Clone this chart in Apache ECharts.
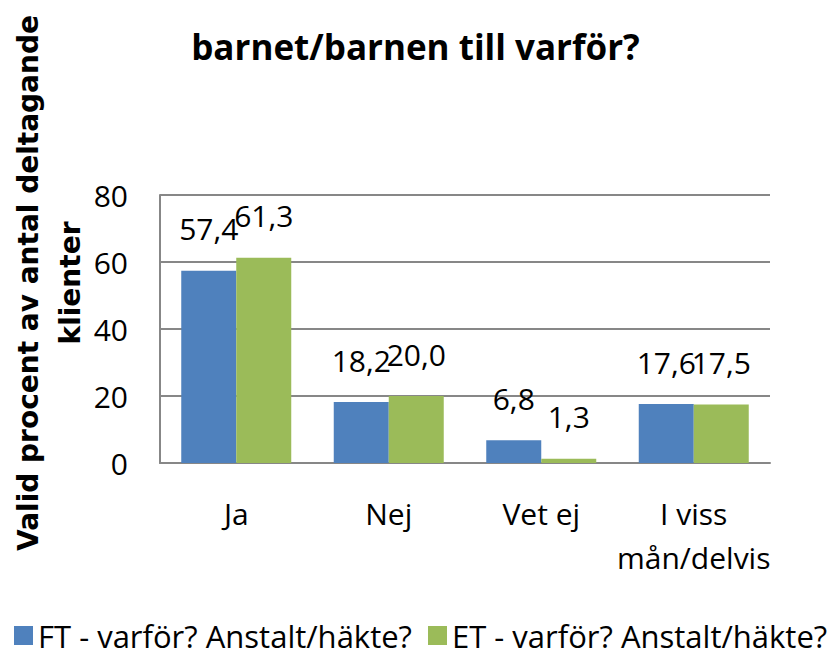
<!DOCTYPE html>
<html lang="sv">
<head>
    <meta charset="UTF-8">
    <title>barnet/barnen till varför?</title>
    <script type="text/javascript" src="https://cdn.jsdelivr.net/npm/echarts@6/dist/echarts.min.js"></script>
    <style>
        html, body {margin: 0; padding: 0; background: #fff;}
        #chart {width: 831px; height: 655px;}
    </style>
</head>
<body>
<div id="chart"></div>
<script>
    // data
    var categories = ['Ja', 'Nej', 'Vet ej', 'I viss\nmån/delvis'];
    var seriesNames = ['FT - varför? Anstalt/häkte?', 'ET - varför? Anstalt/häkte?'];
    var ftValues = [57.4, 18.2, 6.8, 17.6];
    var etValues = [61.3, 20.0, 1.3, 17.5];
    var yTicks = [0, 20, 40, 60, 80];

    var font = "'Open Sans', sans-serif";
    var gray = '#878787';

    // 57.4 -> "57,4"
    function fmt(v) {
        return v.toFixed(1).replace('.', ',');
    }

    var chart = echarts.init(document.getElementById('chart'), null, {renderer: 'svg'});
    chart.setOption({
        animation: false,
        color: ['#4F81BD', '#9BBB59'],
        title: {
            text: 'barnet/barnen till varför?',
            left: 'center',
            top: 24,
            textStyle: {fontFamily: font, fontSize: 35, fontWeight: 'bold', color: '#000'}
        },
        legend: {
            data: seriesNames,
            left: 14,
            top: 620,
            padding: 0,
            width: 817,
            itemWidth: 19,
            itemHeight: 19,
            itemGap: 16,
            icon: 'rect',
            textStyle: {fontFamily: font, fontSize: 31, color: '#000'}
        },
        grid: {left: 160, right: 61, top: 195, bottom: 192},
        xAxis: {
            type: 'category',
            data: categories,
            axisLine: {lineStyle: {color: gray, width: 2}},
            axisTick: {show: false},
            axisLabel: {fontFamily: font, fontSize: 30, color: '#000', margin: 28, lineHeight: 44, interval: 0}
        },
        yAxis: {
            type: 'value',
            min: yTicks[0],
            max: yTicks[yTicks.length - 1],
            interval: 20,
            axisLine: {show: true, lineStyle: {color: gray, width: 2}},
            axisTick: {show: false},
            splitLine: {lineStyle: {color: gray, width: 2}},
            axisLabel: {fontFamily: font, fontSize: 30, color: '#000', margin: 32}
        },
        graphic: [{
            type: 'text',
            x: 7,
            y: 283,
            rotation: Math.PI / 2,
            style: {
                text: 'Valid procent av antal deltagande\nklienter',
                fontFamily: "'DejaVu Sans', sans-serif",
                fontSize: 28,
                fontWeight: 'bold',
                lineHeight: 42,
                fill: '#000',
                align: 'center',
                verticalAlign: 'top'
            }
        }],
        series: [{
            name: seriesNames[0],
            type: 'bar',
            data: ftValues,
            barWidth: 55,
            barGap: '0%',
            label: {
                show: true, position: 'top', distance: 27,
                fontFamily: font, fontSize: 30, color: '#000',
                formatter: function (p) { return fmt(p.value); }
            }
        }, {
            name: seriesNames[1],
            type: 'bar',
            data: etValues,
            barWidth: 55,
            barGap: '0%',
            label: {
                show: true, position: 'top', distance: 27,
                fontFamily: font, fontSize: 30, color: '#000',
                formatter: function (p) { return fmt(p.value); }
            }
        }]
    });
</script>
</body>
</html>
